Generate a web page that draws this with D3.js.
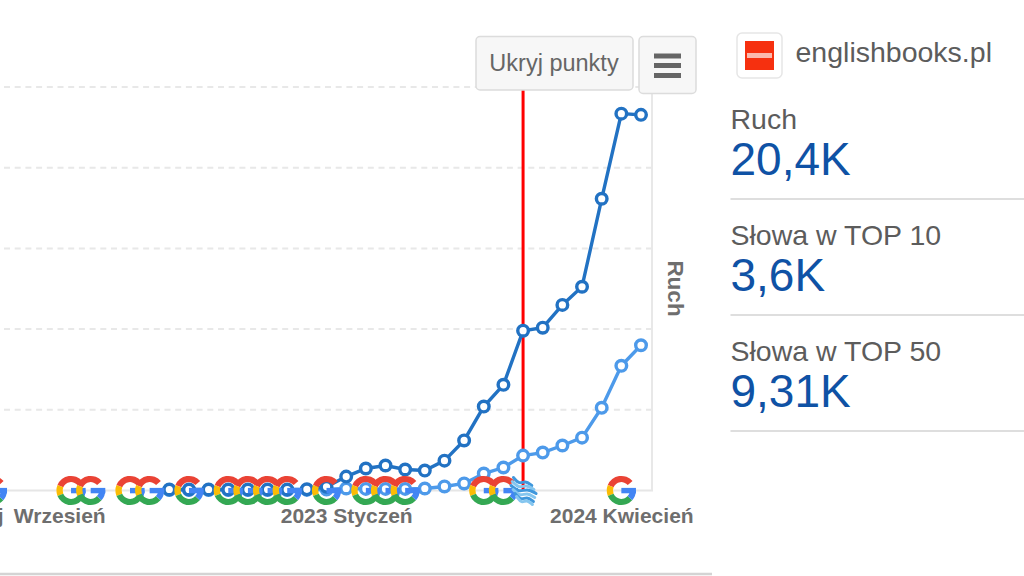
<!DOCTYPE html>
<html><head><meta charset="utf-8">
<script src="https://cdn.jsdelivr.net/npm/d3@7"></script>
<style>html,body{margin:0;padding:0;background:#fff;overflow:hidden}svg{display:block}text{font-family:"Liberation Sans",Arial,sans-serif}</style>
</head><body><div id="c"></div>
<script>
// month slots on the x axis (0 = first G marker inside the visible series region)
const slots = [2,3,4,5,6,7,8,9,10,11,12,13,14,15,16,17,18,19,20,21,22,23,24,25,26];
const top50 = [25,25,25,25,25,25,25,30,90,345,545,620,520,495,740,1240,2080,2620,3960,4035,4600,5050,7230,9340,9310];
const top10 = [10,10,10,10,10,10,10,15,25,50,40,40,40,50,100,175,420,570,865,940,1115,1310,2050,3090,3600];
const googleUpdates = [-7,-3,-2,0,1,3,5,6,7,8,10,12,13,14,18,19,25];
const noteSlot = 20;
const tickSlots = [-7.35,-3.6,11,25];
const tickNames = ["Maj","Wrzesień","2023 Styczeń","2024 Kwiecień"];
const yTicks = [0,2000,4000,6000,8000,10000];
const siteName = "englishbooks.pl";
const statNames = ["Ruch","Słowa w TOP 10","Słowa w TOP 50"];
const statValues = ["20,4K","3,6K","9,31K"];

const W=1024,H=576;
const svg=d3.select("#c").append("svg").attr("width",W).attr("height",H);
const x=d3.scaleLinear().domain([0,26]).range([130,641]);
const y=d3.scaleLinear().domain([0,10000]).range([490.5,87]);
const plotR=652;

// grid
svg.append("g").selectAll("line").data(yTicks.filter(d=>d>0)).join("line")
  .attr("x1",4).attr("x2",plotR).attr("y1",d=>y(d)).attr("y2",d=>y(d))
  .attr("stroke","#e8e8e8").attr("stroke-width",2).attr("stroke-dasharray","6 4.7");
svg.append("line").attr("x1",0).attr("x2",plotR+1).attr("y1",y(0)).attr("y2",y(0)).attr("stroke","#e6e6e6").attr("stroke-width",2);
svg.append("line").attr("x1",plotR).attr("x2",plotR).attr("y1",y(10000)).attr("y2",y(0)).attr("stroke","#e8e8e8").attr("stroke-width",2);

// x axis
const xAxis=d3.axisBottom(x).tickValues(tickSlots).tickSize(0).tickPadding(0).tickFormat((d,i)=>tickNames[i]);
const ax=svg.append("g").attr("transform",`translate(0,${y(0)})`).call(xAxis);
ax.select(".domain").remove();
ax.selectAll("text").attr("y",32.5).attr("dy",0).attr("font-size",21).attr("font-weight","bold").attr("fill","#6e6e6e")
  .style("font-family",'"Liberation Sans",Arial,sans-serif');

// axis title
svg.append("text").attr("transform","translate(668,288.5) rotate(90)").attr("text-anchor","middle")
  .attr("font-size",22.5).attr("font-weight","bold").attr("fill","#6e6e6e").text("Ruch");

// red marker
svg.append("line").attr("x1",x(noteSlot)).attr("x2",x(noteSlot)).attr("y1",90).attr("y2",y(0))
  .attr("stroke","#ff0000").attr("stroke-width",3);

// series
const line=d3.line().x((d,i)=>x(slots[i])).y(d=>y(d));
function series(vals,col){
  const g=svg.append("g");
  g.append("path").datum(vals).attr("d",line).attr("fill","none").attr("stroke",col).attr("stroke-width",3.4);
  g.selectAll("circle").data(vals).join("circle").attr("cx",(d,i)=>x(slots[i])).attr("cy",d=>y(d))
    .attr("r",5.3).attr("fill","#fff").attr("stroke",col).attr("stroke-width",3.4);
}
series(top10,"#4d9aea");
series(top50,"#2272c3");

// Google update markers
const arc=d3.arc().innerRadius(8.4).outerRadius(14.6);
const deg=Math.PI/180;
const gParts=[
  {c:"#ea4335",a:-68,b:50},
  {c:"#fbbc05",a:-112,b:-68},
  {c:"#34a853",a:-228,b:-112},
  {c:"#4285f4",a:90,b:132}
];
const gg=svg.append("g").selectAll("g").data(googleUpdates).join("g")
  .attr("transform",d=>`translate(${x(d)},${y(0)})`);
gg.selectAll("path").data(gParts).join("path")
  .attr("fill",d=>d.c)
  .attr("d",d=>arc({startAngle:d.a*deg,endAngle:d.b*deg}));
gg.append("rect").attr("x",0).attr("y",-2.6).attr("width",14.6).attr("height",5.4).attr("fill","#4285f4");

// note (wave) marker
const waveLine=d3.line().curve(d3.curveBasis);
const wave=[[-12,-5],[-4,2],[4,-2],[13,3]];
const waveOffsets=[-8,-4,0,4,8,11];
svg.append("g").attr("transform",`translate(${x(noteSlot)},${y(0)})`).selectAll("path").data(waveOffsets).join("path")
  .attr("d",d=>waveLine(wave.map(p=>[p[0]*(1-Math.abs(d)/30)+d*0.1,p[1]+d])))
  .attr("fill","none").attr("stroke",(d,i)=>i%2?"#85c6ef":"#3f97dc").attr("stroke-width",3).attr("stroke-linecap","round");

// buttons
const b=svg.append("g");
b.append("rect").attr("x",476).attr("y",36.5).attr("width",157).attr("height",53.5).attr("rx",4).attr("fill","#f7f7f7").attr("stroke","#dcdcdc").attr("stroke-width",1.5);
b.append("text").attr("x",554).attr("y",71).attr("text-anchor","middle").attr("font-size",23.5).attr("fill","#666").text("Ukryj punkty");
b.append("rect").attr("x",639).attr("y",36.5).attr("width",57).attr("height",57).attr("rx",4).attr("fill","#f7f7f7").attr("stroke","#dcdcdc").attr("stroke-width",1.5);
b.selectAll("line").data([56,65.5,75.5]).join("line").attr("x1",654).attr("x2",681).attr("y1",d=>d).attr("y2",d=>d).attr("stroke","#666").attr("stroke-width",5);

// bottom rule
svg.append("line").attr("x1",0).attr("x2",712).attr("y1",574).attr("y2",574).attr("stroke","#d4d4d4").attr("stroke-width",2.5);

// site header
svg.append("rect").attr("x",737).attr("y",33).attr("width",45).attr("height",45).attr("rx",5).attr("fill","#fff").attr("stroke","#e6e6e6").attr("stroke-width",1.5);
svg.append("rect").attr("x",745).attr("y",41).attr("width",29).attr("height",29).attr("fill","#f6300f");
svg.append("rect").attr("x",747).attr("y",53).attr("width",25).attr("height",5).attr("fill","#fbb9ad");
svg.append("text").attr("x",795.5).attr("y",62).attr("font-size",28.5).attr("fill","#5c5c5c").text(siteName);

// stats
const ys=[0,116,232];
const st=svg.append("g").selectAll("g").data(statNames).join("g").attr("transform",(d,i)=>`translate(730.5,${ys[i]})`);
st.append("text").attr("x",0).attr("y",128.5).attr("font-size",28.5).attr("fill","#5c5c5c").text(d=>d);
st.append("text").attr("x",0).attr("y",175).attr("font-size",46).attr("fill","#0f52a5").text((d,i)=>statValues[i]);
st.append("line").attr("x1",0).attr("x2",293.5).attr("y1",199).attr("y2",199).attr("stroke","#dedede").attr("stroke-width",2);
</script></body></html>
